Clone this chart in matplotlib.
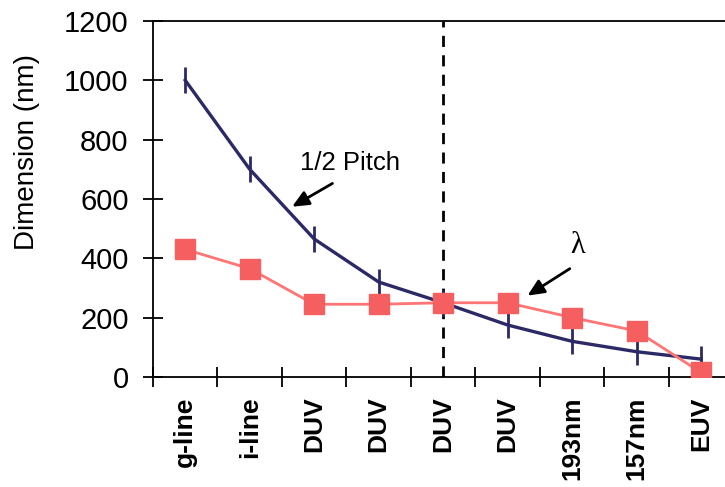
import matplotlib
matplotlib.use("Agg")
import matplotlib.pyplot as plt
import numpy as np

categories = ["g-line", "i-line", "DUV", "DUV", "DUV", "DUV", "193nm", "157nm", "EUV"]
half_pitch = [1000, 700, 465, 320, 250, 175, 120, 85, 60]
wavelength = [430, 365, 245, 245, 250, 250, 200, 155, 15]
y_ticks = [0, 200, 400, 600, 800, 1000, 1200]

plt.rcParams['font.family'] = ['Liberation Sans', 'DejaVu Sans']

fig = plt.figure(figsize=(7.25, 4.87), dpi=100)
ax = fig.add_axes([0.211, 0.226, 0.789, 0.731])

x = np.arange(len(categories))
navy = "#2B2966"
red_line = "#FF7474"
red_mark = "#F55F5F"

ax.plot(x, half_pitch, color=navy, lw=2.4, marker="|", markersize=19,
        markeredgewidth=2.0, zorder=3)
ax.plot(x, wavelength, color=red_line, lw=2.0, marker="s", markersize=14,
        markerfacecolor=red_mark, markeredgecolor=red_mark, zorder=4)

ax.axvline(4, color="black", lw=2.0, linestyle=(0, (4, 3)), zorder=2)

ax.set_xlim(-0.5, 8.37)
ax.set_ylim(0, 1200)
ax.set_yticks(y_ticks)
ax.set_xticks(np.arange(-0.5, 8.0, 1.0))
ax.set_xticklabels([])
ax.set_xticks(x, minor=True)
ax.set_xticklabels(categories, minor=True, rotation=90, fontsize=19,
                   fontweight="bold")
ax.tick_params(axis="x", which="minor", length=0, pad=14)
ax.tick_params(axis="x", which="major", direction="inout", length=15, width=1.3)
ax.tick_params(axis="y", direction="inout", length=15, width=1.3, labelsize=21, pad=10)

for s in ["left", "bottom", "top"]:
    ax.spines[s].set_linewidth(1.3)
ax.spines["right"].set_visible(False)

fig.text(0.037, 0.687, "Dimension (nm)", rotation=90, fontsize=20,
         ha="center", va="center")

arrow_style = dict(arrowstyle="-|>,head_length=1.0,head_width=0.45",
                   color="black", lw=2)
ax.annotate("", xy=(1.62, 569), xytext=(2.32, 657), arrowprops=arrow_style)
ax.text(2.55, 720, "1/2 Pitch", fontsize=18.5, ha="center", va="center")
ax.annotate("", xy=(5.27, 269), xytext=(6.0, 370), arrowprops=arrow_style)
ax.text(6.09, 444, "λ", fontsize=22, ha="center", va="center",
        family=["Liberation Serif", "DejaVu Serif"])

fig.savefig("out.png", dpi=100)
